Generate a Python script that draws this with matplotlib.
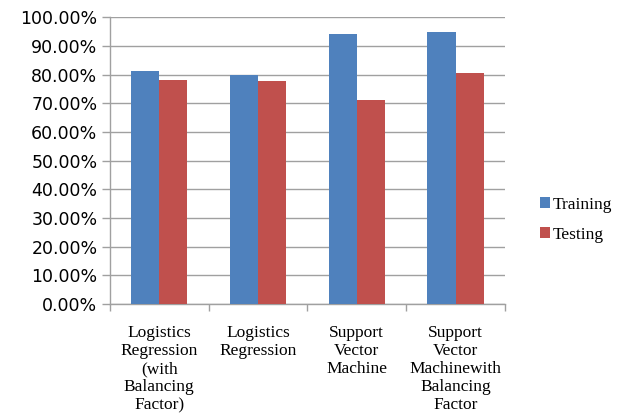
import matplotlib
matplotlib.use("Agg")
import matplotlib.pyplot as plt
from matplotlib.ticker import FuncFormatter, FixedLocator
import numpy as np

# data
categories = [
    "Logistics\nRegression\n(with\nBalancing\nFactor)",
    "Logistics\nRegression",
    "Support\nVector\nMachine",
    "Support\nVector\nMachinewith\nBalancing\nFactor",
]
training = [81.2, 80.0, 94.3, 95.0]
testing = [78.0, 77.7, 71.3, 80.5]
series_names = ["Training", "Testing"]
y_ticks = [0, 10, 20, 30, 40, 50, 60, 70, 80, 90, 100]

BLUE = "#4F81BD"
RED = "#C0504D"
GRID = "#A0A0A0"

fig = plt.figure(figsize=(6.21, 4.19), dpi=100)
ax = fig.add_axes([0.177, 0.274, 0.636, 0.685])

x = np.arange(len(categories))
w = 1 / 3.5
ax.bar(x - w / 2, training, w, color=BLUE, label=series_names[0], zorder=3)
ax.bar(x + w / 2, testing, w, color=RED, label=series_names[1], zorder=3)

ax.set_xlim(-0.5, len(categories) - 0.5)
ax.set_ylim(0, 100)
ax.set_yticks(y_ticks)
ax.yaxis.set_major_formatter(FuncFormatter(lambda v, p: f"{v:.2f}%"))
ax.grid(axis="y", color=GRID, linewidth=1.0, zorder=0)

# category boundary ticks, labels centred via minor ticks
ax.xaxis.set_major_locator(FixedLocator(np.arange(-0.5, len(categories), 1.0)))
ax.xaxis.set_major_formatter(FuncFormatter(lambda v, p: ""))
ax.xaxis.set_minor_locator(FixedLocator(x))
ax.set_xticklabels(categories, minor=True, family="Liberation Serif",
                   fontsize=12.5, linespacing=1.17, va="top")
ax.tick_params(axis="x", which="minor", length=0, pad=15)
ax.tick_params(axis="x", which="major", length=5, color=GRID, width=1)
ax.tick_params(axis="y", length=6, color=GRID, width=1, pad=3,
               labelsize=12.5)
for lbl in ax.get_yticklabels():
    lbl.set_family("DejaVu Sans")

for side in ["top", "right"]:
    ax.spines[side].set_visible(False)
for side in ["left", "bottom"]:
    ax.spines[side].set_color(GRID)
    ax.spines[side].set_linewidth(1.0)

fig.legend(loc="upper left", bbox_to_anchor=(0.845, 0.568), frameon=False,
           handlelength=0.55, handleheight=0.55, handletextpad=0.15,
           labelspacing=0.8, prop={"family": "Liberation Serif", "size": 12.5})

fig.savefig("out.png", dpi=100)
